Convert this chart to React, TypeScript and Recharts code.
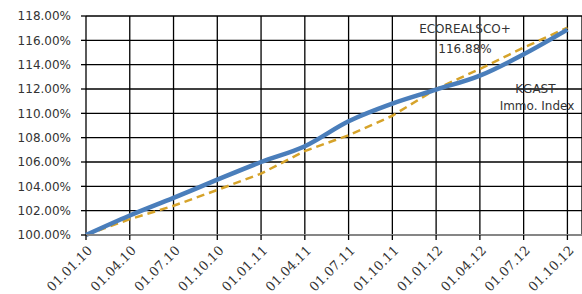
import { CartesianGrid, Line, LineChart, XAxis, YAxis } from 'recharts';

// months since 01.01.10, quarterly
const months = [0, 3, 6, 9, 12, 15, 18, 21, 24, 27, 30, 33];
const dateLabels = ['01.01.10', '01.04.10', '01.07.10', '01.10.10', '01.01.11', '01.04.11', '01.07.11', '01.10.11', '01.01.12', '01.04.12', '01.07.12', '01.10.12'];
const ecoreal = [100, 101.6, 103.05, 104.55, 106.0, 107.3, 109.35, 110.8, 111.95, 113.1, 114.85, 116.88];
const kgast = [100, 101.3, 102.4, 103.7, 105.05, 106.9, 108.2, 109.8, 112.0, 113.65, 115.4, 117.05];
const yTicks = [100, 102, 104, 106, 108, 110, 112, 114, 116, 118];

const data = months.map((m, i) => ({ m, ecoreal: ecoreal[i], kgast: kgast[i] }));

const labelFont = "'DejaVu Sans', sans-serif";

function DateTick({ x, y, payload }: any) {
  const idx = months.indexOf(payload.value);
  return (
    <text
      x={x + 4}
      y={y + 6}
      transform={`rotate(-45 ${x + 4} ${y + 6})`}
      textAnchor="end"
      dy="0.35em"
      fontFamily="'DejaVu Serif', serif"
      fontSize={13}
      fill="#333"
    >
      {dateLabels[idx]}
    </text>
  );
}

export default function App() {
  return (
    <div style={{ position: 'relative', width: 582, height: 294, background: '#fff' }}>
      <style>{`body{margin:0}`}</style>
      <LineChart width={582} height={294} data={data} margin={{ top: 16, right: 0, bottom: 0, left: 0 }}>
        <CartesianGrid stroke="#000" strokeWidth={1.3} />
        <XAxis
          dataKey="m"
          type="number"
          domain={[0, 34]}
          ticks={months}
          height={59}
          tickSize={5}
          axisLine={{ stroke: '#868686', strokeWidth: 2 }}
          tickLine={{ stroke: '#000', strokeWidth: 1.3 }}
          tick={<DateTick />}
          interval={0}
        />
        <YAxis
          type="number"
          domain={[100, 118]}
          ticks={yTicks}
          width={86}
          tickSize={5}
          tickMargin={10}
          axisLine={false}
          tickLine={{ stroke: '#000', strokeWidth: 1.3 }}
          tickFormatter={(v: number) => v.toFixed(2) + '%'}
          tick={{ fill: '#333', fontSize: 12, fontFamily: labelFont }}
          interval={0}
        />
        <Line type="linear" dataKey="kgast" stroke="#d6a32a" strokeWidth={2.5} strokeDasharray="8 5" dot={false} isAnimationActive={false} />
        <Line type="monotone" dataKey="ecoreal" stroke="#4a7ebb" strokeWidth={4.5} dot={false} isAnimationActive={false} />
      </LineChart>
      <div style={{ position: 'absolute', left: 405, top: 19, width: 120, textAlign: 'center', fontFamily: labelFont, fontSize: 12, lineHeight: '20px', color: '#333' }}>
        ECOREALSCO+<br />116.88%
      </div>
      <div style={{ position: 'absolute', left: 487, top: 81, width: 100, textAlign: 'center', fontFamily: labelFont, fontSize: 12, lineHeight: '17px', color: '#333' }}>
        KGAST-<br />Immo. Index
      </div>
    </div>
  );
}
